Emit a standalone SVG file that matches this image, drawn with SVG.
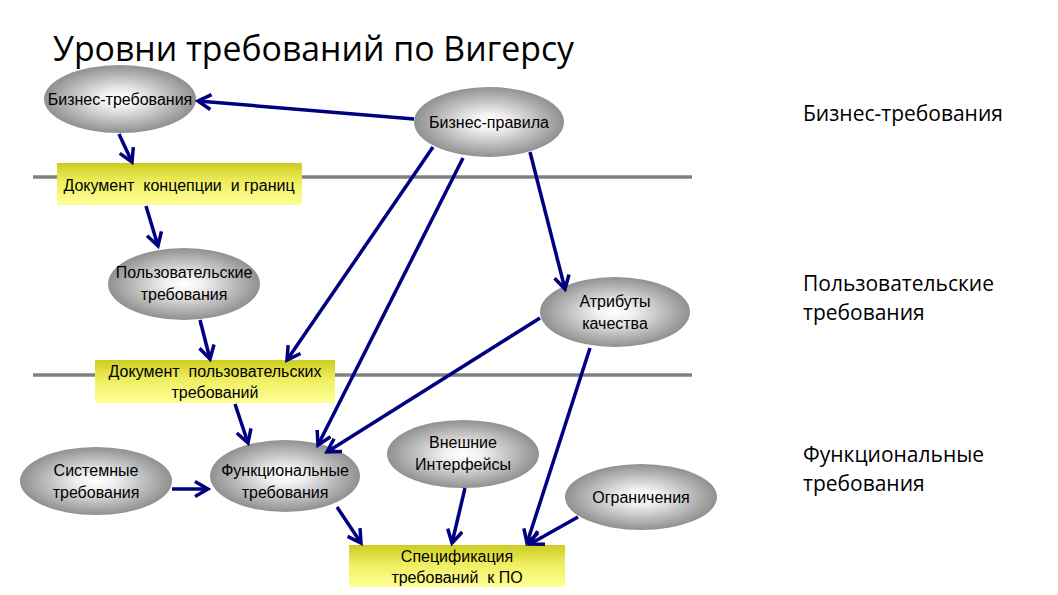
<svg xmlns="http://www.w3.org/2000/svg" width="1058" height="595" viewBox="0 0 1058 595">
<defs>
<radialGradient id="eg" cx="50%" cy="50%" r="50%">
<stop offset="0" stop-color="#ffffff"/>
<stop offset="0.25" stop-color="#f0f0f0"/>
<stop offset="1" stop-color="#909090"/>
</radialGradient>
<linearGradient id="yg" x1="0" y1="0" x2="0" y2="1">
<stop offset="0" stop-color="#cccc1f"/>
<stop offset="0.45" stop-color="#eeee60"/>
<stop offset="1" stop-color="#ffff99"/>
</linearGradient>
<marker id="ah" markerUnits="userSpaceOnUse" markerWidth="18" markerHeight="18" viewBox="0 0 18 18" refX="15" refY="9" orient="auto">
<path d="M2,1.5 L15,9 L2,16.5" fill="none" stroke="#000080" stroke-width="3.5" stroke-linejoin="miter"/>
</marker>
</defs>
<style>
.el{fill:url(#eg);stroke:none}
.bx{fill:url(#yg);stroke:none}
.t{font-family:"Liberation Sans",Arial,sans-serif;font-size:16px;fill:#000;text-anchor:middle;white-space:pre}
.lbl{font-family:"Open Sans","Noto Sans",sans-serif;font-size:21px;fill:#000}
.ttl{font-family:"Open Sans","Noto Sans",sans-serif;font-size:33.8px;fill:#000}
.sep{stroke:#808080;stroke-width:3.5}
.cn{stroke:#000080;stroke-width:3.5;fill:none;marker-end:url(#ah)}
</style>
<rect width="1058" height="595" fill="#ffffff"/>
<text class="ttl" x="53" y="61">Уровни требований по Вигерсу</text>
<g id="levels">
<line class="sep" x1="33" y1="177" x2="692" y2="177"/>
<line class="sep" x1="33" y1="375" x2="692" y2="375"/>
<text class="lbl" x="803" y="121">Бизнес-требования</text>
<text class="lbl" x="803" y="291">Пользовательские</text>
<text class="lbl" x="803" y="320">требования</text>
<text class="lbl" x="803" y="462">Функциональные</text>
<text class="lbl" x="803" y="491">требования</text>
</g>
<g id="n-biz-req"><ellipse class="el" cx="120" cy="99" rx="76" ry="34"/><text class="t" x="120" y="105">Бизнес-требования</text></g>
<g id="n-biz-rules"><ellipse class="el" cx="489" cy="122" rx="75" ry="35"/><text class="t" x="489" y="128">Бизнес-правила</text></g>
<g id="n-doc-vision"><rect class="bx" x="57" y="163" width="245" height="42"/><text class="t" x="179" y="191">Документ  концепции  и границ</text></g>
<g id="n-user-req"><ellipse class="el" cx="184" cy="284" rx="76" ry="36"/><text class="t" x="184" y="278">Пользовательские</text><text class="t" x="184" y="300">требования</text></g>
<g id="n-quality"><ellipse class="el" cx="615" cy="312" rx="75" ry="35"/><text class="t" x="615" y="307">Атрибуты</text><text class="t" x="615" y="329">качества</text></g>
<g id="n-doc-user"><rect class="bx" x="95" y="360" width="240" height="43"/><text class="t" x="215" y="377">Документ  пользовательских</text><text class="t" x="215" y="398">требований</text></g>
<g id="n-sys-req"><ellipse class="el" cx="96" cy="481" rx="76" ry="34"/><text class="t" x="96" y="476">Системные</text><text class="t" x="96" y="498">требования</text></g>
<g id="n-func-req"><ellipse class="el" cx="285" cy="476" rx="75" ry="36"/><text class="t" x="285" y="476">Функциональные</text><text class="t" x="285" y="498">требования</text></g>
<g id="n-ext-if"><ellipse class="el" cx="463" cy="454" rx="76" ry="34"/><text class="t" x="463" y="448">Внешние</text><text class="t" x="463" y="470">Интерфейсы</text></g>
<g id="n-constraints"><ellipse class="el" cx="641" cy="497" rx="76" ry="33"/><text class="t" x="641" y="503">Ограничения</text></g>
<g id="n-srs"><rect class="bx" x="349" y="545" width="216" height="42"/><text class="t" x="457" y="562">Спецификация</text><text class="t" x="457" y="583">требований  к ПО</text></g>
<g id="connectors">
<line class="cn" x1="414" y1="119" x2="198" y2="101"/>
<line class="cn" x1="119" y1="134" x2="132" y2="162"/>
<line class="cn" x1="146" y1="206" x2="158" y2="246"/>
<line class="cn" x1="200" y1="320" x2="210" y2="359"/>
<line class="cn" x1="433" y1="147" x2="287" y2="360"/>
<line class="cn" x1="463" y1="158" x2="318" y2="445"/>
<line class="cn" x1="530" y1="152" x2="565" y2="289"/>
<line class="cn" x1="540" y1="318" x2="327" y2="452"/>
<line class="cn" x1="235" y1="404" x2="248" y2="443"/>
<line class="cn" x1="590" y1="348" x2="527" y2="543"/>
<line class="cn" x1="172" y1="489" x2="208" y2="489"/>
<line class="cn" x1="337" y1="507" x2="361" y2="543"/>
<line class="cn" x1="465" y1="488" x2="452" y2="543"/>
<line class="cn" x1="578" y1="517" x2="530" y2="544"/>
</g>
</svg>
